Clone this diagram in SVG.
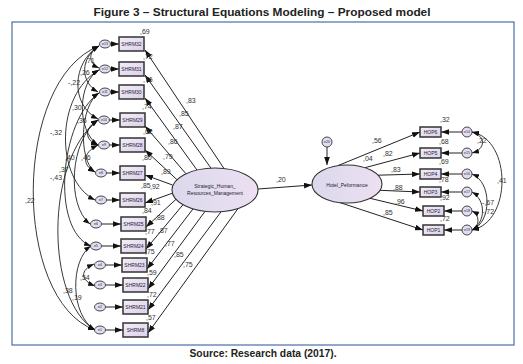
<svg xmlns="http://www.w3.org/2000/svg" width="523" height="364" viewBox="0 0 523 364">
<defs>
<linearGradient id="gb" x1="0" y1="0" x2="1" y2="1"><stop offset="0" stop-color="#f3eef8"/><stop offset="1" stop-color="#dcd0ea"/></linearGradient>
<linearGradient id="ge" x1="0" y1="0" x2="1" y2="0"><stop offset="0" stop-color="#dcd8ec"/><stop offset="1" stop-color="#ece0f2"/></linearGradient>
<marker id="ah" viewBox="0 0 14 10" refX="14" refY="5" markerWidth="8" markerHeight="6" markerUnits="userSpaceOnUse" orient="auto-start-reverse"><path d="M0,0 L14,5 L0,10 z" fill="#111"/></marker>
<marker id="ac" viewBox="0 0 14 10" refX="14" refY="5" markerWidth="7" markerHeight="5" markerUnits="userSpaceOnUse" orient="auto-start-reverse"><path d="M0,0 L14,5 L0,10 z" fill="#111"/></marker>
</defs>
<style>
.t{font-family:"Liberation Sans",Arial,sans-serif;font-weight:bold;fill:#222}
.lb{font-family:"Liberation Sans",Arial,sans-serif;font-size:7px;fill:#333}
.bx{fill:url(#gb);stroke:#333;stroke-width:1.5}
.bt{font-family:"Liberation Sans",Arial,sans-serif;font-size:5px;fill:#223;text-anchor:middle}
.er{fill:#e4dcf0;stroke:#333;stroke-width:0.9}
.et{font-family:"Liberation Sans",Arial,sans-serif;font-size:3.5px;fill:#223;text-anchor:middle}
.ln{fill:none;stroke:#222;stroke-width:1;marker-end:url(#ah)}
.cv{fill:none;stroke:#222;stroke-width:0.9;marker-end:url(#ac);marker-start:url(#ac)}
.lv{fill:url(#ge);stroke:#333;stroke-width:1.1}
</style>
<rect width="523" height="364" fill="#fff"/>
<text class="t" x="262" y="16" font-size="11.5" text-anchor="middle" textLength="337" lengthAdjust="spacingAndGlyphs">Figure 3 – Structural Equations Modeling – Proposed model</text>
<rect x="12" y="22" width="502" height="323" fill="none" stroke="#4a6fa5" stroke-width="1.2"/>
<text class="t" x="263" y="357" font-size="10" text-anchor="middle" textLength="147" lengthAdjust="spacingAndGlyphs">Source: Research data (2017).</text>

<g id="connectors">
<path class="ln" d="M111,44 H119"/>
<path class="ln" d="M111,69 H119"/>
<path class="ln" d="M111,92 H119"/>
<path class="ln" d="M110,120 H120"/>
<path class="ln" d="M110,145 H120"/>
<path class="ln" d="M107,173 H120"/>
<path class="ln" d="M107,200 H120"/>
<path class="ln" d="M102,224 H121"/>
<path class="ln" d="M102,246 H121"/>
<path class="ln" d="M106,265 H122"/>
<path class="ln" d="M106,285 H123"/>
<path class="ln" d="M106,307 H123"/>
<path class="ln" d="M106,330 H123"/>
<path class="ln" d="M224,168.5 L145,50"/>
<path class="ln" d="M211,168.2 L145,75"/>
<path class="ln" d="M197,170 L145,98"/>
<path class="ln" d="M186,173.8 L145,126"/>
<path class="ln" d="M177,179.7 L145,150"/>
<path class="ln" d="M172.5,185 L145,175"/>
<path class="ln" d="M173,193 L145,203"/>
<path class="ln" d="M176,199.3 L146,227"/>
<path class="ln" d="M183,204.7 L146,249"/>
<path class="ln" d="M193,208.9 L147,269"/>
<path class="ln" d="M205,211.4 L148,289"/>
<path class="ln" d="M221,211.8 L148,310"/>
<path class="ln" d="M238,208.6 L148,333"/>
<path class="ln" d="M258,189 L312,185"/>
<path class="ln" d="M327,147 V165"/>
<path class="ln" d="M338,165.6 L420,132"/>
<path class="ln" d="M365,167.7 L420,153"/>
<path class="ln" d="M378,175.2 L420,174"/>
<path class="ln" d="M380,190.3 L420,192"/>
<path class="ln" d="M370,198.3 L423,211"/>
<path class="ln" d="M340,202.6 L423,230"/>
<path class="ln" d="M462,132 H441"/>
<path class="ln" d="M462,153 H441"/>
<path class="ln" d="M462,174 H441"/>
<path class="ln" d="M462,192 H441"/>
<path class="ln" d="M462,211 H444"/>
<path class="ln" d="M462,230 H444"/>
<path class="cv" d="M472,132 C486,136 486,149 472,153"/>
<path class="cv" d="M472,132 C512,140 512,222 472,230"/>
<path class="cv" d="M472,174 C492,182 492,222 472,230"/>
<path class="cv" d="M472,192 C486,200 486,222 472,230"/>
<path class="cv" d="M472,211 C480,215 480,226 472,230"/>
<path class="cv" d="M99,46 C88,52 88,63 99,68"/>
<path class="cv" d="M99,46 C80,58 80,82 98,92"/>
<path class="cv" d="M99,46 C72,62 70,105 98,119"/>
<path class="cv" d="M99,70 C78,82 76,130 98,145"/>
<path class="cv" d="M99,93 C80,105 78,160 95,172"/>
<path class="cv" d="M98,120 C84,128 84,140 98,145"/>
<path class="cv" d="M99,70 C55,95 55,180 95,200"/>
<path class="cv" d="M98,145 C82,153 82,165 95,172"/>
<path class="cv" d="M98,120 C70,140 66,205 90,224"/>
<path class="cv" d="M99,93 C60,120 50,230 91,246"/>
<path class="cv" d="M99,46 C12,80 12,300 95,330"/>
<path class="cv" d="M94,264 C80,270 80,280 95,286"/>
<path class="cv" d="M91,246 C70,260 70,315 95,330"/>
<path class="cv" d="M98,120 C45,160 45,300 95,330"/>
</g>

<g id="labels">
<text class="lb" x="140" y="34">,69</text>
<text class="lb" x="143" y="59">,72</text>
<text class="lb" x="143" y="82">,76</text>
<text class="lb" x="142" y="109">,74</text>
<text class="lb" x="143" y="134">,62</text>
<text class="lb" x="142" y="160">,80</text>
<text class="lb" x="141" y="188">,85</text>
<text class="lb" x="142" y="213">,84</text>
<text class="lb" x="145" y="234">,77</text>
<text class="lb" x="145" y="254">,75</text>
<text class="lb" x="147" y="275">,59</text>
<text class="lb" x="147" y="297">,72</text>
<text class="lb" x="146" y="320">,57</text>
<text class="lb" x="186" y="103">,83</text>
<text class="lb" x="179" y="116">,85</text>
<text class="lb" x="173" y="129">,87</text>
<text class="lb" x="168" y="144">,86</text>
<text class="lb" x="163" y="159">,79</text>
<text class="lb" x="161" y="174">,89</text>
<text class="lb" x="150" y="189">,92</text>
<text class="lb" x="151" y="205">,91</text>
<text class="lb" x="155" y="220">,88</text>
<text class="lb" x="158" y="233">,87</text>
<text class="lb" x="165" y="246">,77</text>
<text class="lb" x="174" y="257">,85</text>
<text class="lb" x="183" y="267">,75</text>
<text class="lb" x="276" y="182">,20</text>
<text class="lb" x="363" y="161">,04</text>
<text class="lb" x="372" y="143">,56</text>
<text class="lb" x="383" y="156">,82</text>
<text class="lb" x="391" y="172">,83</text>
<text class="lb" x="393" y="190">,88</text>
<text class="lb" x="395" y="204">,96</text>
<text class="lb" x="383" y="215">,85</text>
<text class="lb" x="440" y="122">,32</text>
<text class="lb" x="439" y="144">,68</text>
<text class="lb" x="439" y="164">,69</text>
<text class="lb" x="439" y="182">,78</text>
<text class="lb" x="440" y="200">,92</text>
<text class="lb" x="440" y="221">,72</text>
<text class="lb" x="477" y="143">,22</text>
<text class="lb" x="497" y="183">,41</text>
<text class="lb" x="482" y="205">-,67</text>
<text class="lb" x="482" y="214">-,72</text>
<text class="lb" x="85" y="63">,71</text>
<text class="lb" x="80" y="75">,26</text>
<text class="lb" x="68" y="85">-,22</text>
<text class="lb" x="72" y="110">,30</text>
<text class="lb" x="77" y="123">,36</text>
<text class="lb" x="50" y="135">-,32</text>
<text class="lb" x="65" y="160">,40</text>
<text class="lb" x="81" y="160">,46</text>
<text class="lb" x="59" y="172">,37</text>
<text class="lb" x="50" y="180">-,43</text>
<text class="lb" x="25" y="203">,22</text>
<text class="lb" x="80" y="280">,54</text>
<text class="lb" x="63" y="293">,38</text>
<text class="lb" x="72" y="300">,19</text>
</g>

<g id="SHRM"><ellipse class="lv" cx="215" cy="190" rx="43" ry="22"/><text class="bt" x="215" y="188">Strategic_Human_</text><text class="bt" x="215" y="195">Resources_Management</text></g>
<g id="HP"><ellipse class="lv" cx="347" cy="184" rx="35" ry="19"/><text class="bt" x="347" y="187" font-size="7">Hotel_Peformance</text></g>
<g id="e20"><circle class="er" cx="327" cy="142" r="5"/><text class="et" x="327" y="143.2">e20</text></g>

<g id="n-SHRM32"><rect class="bx" x="119" y="37" width="25" height="14"/><text class="bt" x="131.5" y="46">SHRM32</text></g>
<g id="n-SHRM31"><rect class="bx" x="119" y="62" width="25" height="14"/><text class="bt" x="131.5" y="71">SHRM31</text></g>
<g id="n-SHRM30"><rect class="bx" x="119" y="85" width="25" height="14"/><text class="bt" x="131.5" y="94">SHRM30</text></g>
<g id="n-SHRM29"><rect class="bx" x="120" y="113" width="25" height="14"/><text class="bt" x="132.5" y="122">SHRM29</text></g>
<g id="n-SHRM28"><rect class="bx" x="120" y="138" width="25" height="14"/><text class="bt" x="132.5" y="147">SHRM28</text></g>
<g id="n-SHRM27"><rect class="bx" x="120" y="166" width="25" height="14"/><text class="bt" x="132.5" y="175">SHRM27</text></g>
<g id="n-SHRM26"><rect class="bx" x="120" y="193" width="25" height="14"/><text class="bt" x="132.5" y="202">SHRM26</text></g>
<g id="n-SHRM25"><rect class="bx" x="121" y="217" width="25" height="14"/><text class="bt" x="133.5" y="226">SHRM25</text></g>
<g id="n-SHRM24"><rect class="bx" x="121" y="239" width="25" height="14"/><text class="bt" x="133.5" y="248">SHRM24</text></g>
<g id="n-SHRM23"><rect class="bx" x="122" y="258" width="25" height="14"/><text class="bt" x="134.5" y="267">SHRM23</text></g>
<g id="n-SHRM22"><rect class="bx" x="123" y="278" width="25" height="14"/><text class="bt" x="135.5" y="287">SHRM22</text></g>
<g id="n-SHRM21"><rect class="bx" x="123" y="300" width="25" height="14"/><text class="bt" x="135.5" y="309">SHRM21</text></g>
<g id="n-SHRM8"><rect class="bx" x="123" y="323" width="25" height="14"/><text class="bt" x="135.5" y="332">SHRM8</text></g>

<g id="n-e13"><ellipse class="er" cx="105" cy="44" rx="5.5" ry="4"/><text class="et" x="105" y="45.2">e13</text></g>
<g id="n-e12"><ellipse class="er" cx="105" cy="69" rx="5.5" ry="4"/><text class="et" x="105" y="70.2">e12</text></g>
<g id="n-e11"><ellipse class="er" cx="105" cy="92" rx="5.5" ry="4"/><text class="et" x="105" y="93.2">e11</text></g>
<g id="n-e10"><ellipse class="er" cx="104" cy="120" rx="5.5" ry="4"/><text class="et" x="104" y="121.2">e10</text></g>
<g id="n-e9"><ellipse class="er" cx="104" cy="145" rx="5.5" ry="4"/><text class="et" x="104" y="146.2">e9</text></g>
<g id="n-e8"><ellipse class="er" cx="101" cy="173" rx="5.5" ry="4"/><text class="et" x="101" y="174.2">e8</text></g>
<g id="n-e7"><ellipse class="er" cx="101" cy="200" rx="5.5" ry="4"/><text class="et" x="101" y="201.2">e7</text></g>
<g id="n-e6"><ellipse class="er" cx="96" cy="224" rx="5.5" ry="4"/><text class="et" x="96" y="225.2">e6</text></g>
<g id="n-e5"><ellipse class="er" cx="96" cy="246" rx="5.5" ry="4"/><text class="et" x="96" y="247.2">e5</text></g>
<g id="n-e4"><ellipse class="er" cx="100" cy="265" rx="5.5" ry="4"/><text class="et" x="100" y="266.2">e4</text></g>
<g id="n-e3"><ellipse class="er" cx="100" cy="285" rx="5.5" ry="4"/><text class="et" x="100" y="286.2">e3</text></g>
<g id="n-e2"><ellipse class="er" cx="100" cy="307" rx="5.5" ry="4"/><text class="et" x="100" y="308.2">e2</text></g>
<g id="n-e1"><ellipse class="er" cx="100" cy="330" rx="5.5" ry="4"/><text class="et" x="100" y="331.2">e1</text></g>

<g id="n-HOP6"><rect class="bx" x="420" y="127" width="21" height="10"/><text class="bt" x="430.5" y="134">HOP6</text></g>
<g id="n-HOP5"><rect class="bx" x="420" y="148" width="21" height="10"/><text class="bt" x="430.5" y="155">HOP5</text></g>
<g id="n-HOP4"><rect class="bx" x="420" y="169" width="21" height="10"/><text class="bt" x="430.5" y="176">HOP4</text></g>
<g id="n-HOP3"><rect class="bx" x="420" y="187" width="21" height="10"/><text class="bt" x="430.5" y="194">HOP3</text></g>
<g id="n-HOP2"><rect class="bx" x="423" y="206" width="21" height="10"/><text class="bt" x="433.5" y="213">HOP2</text></g>
<g id="n-HOP1"><rect class="bx" x="423" y="225" width="21" height="10"/><text class="bt" x="433.5" y="232">HOP1</text></g>

<g id="n-e14"><circle class="er" cx="467" cy="132" r="5"/><text class="et" x="467" y="133.2">e14</text></g>
<g id="n-e15"><circle class="er" cx="467" cy="153" r="5"/><text class="et" x="467" y="154.2">e15</text></g>
<g id="n-e16"><circle class="er" cx="467" cy="174" r="5"/><text class="et" x="467" y="175.2">e16</text></g>
<g id="n-e17"><circle class="er" cx="467" cy="192" r="5"/><text class="et" x="467" y="193.2">e17</text></g>
<g id="n-e18"><circle class="er" cx="467" cy="211" r="5"/><text class="et" x="467" y="212.2">e18</text></g>
<g id="n-e19"><circle class="er" cx="467" cy="230" r="5"/><text class="et" x="467" y="231.2">e19</text></g>
</svg>
